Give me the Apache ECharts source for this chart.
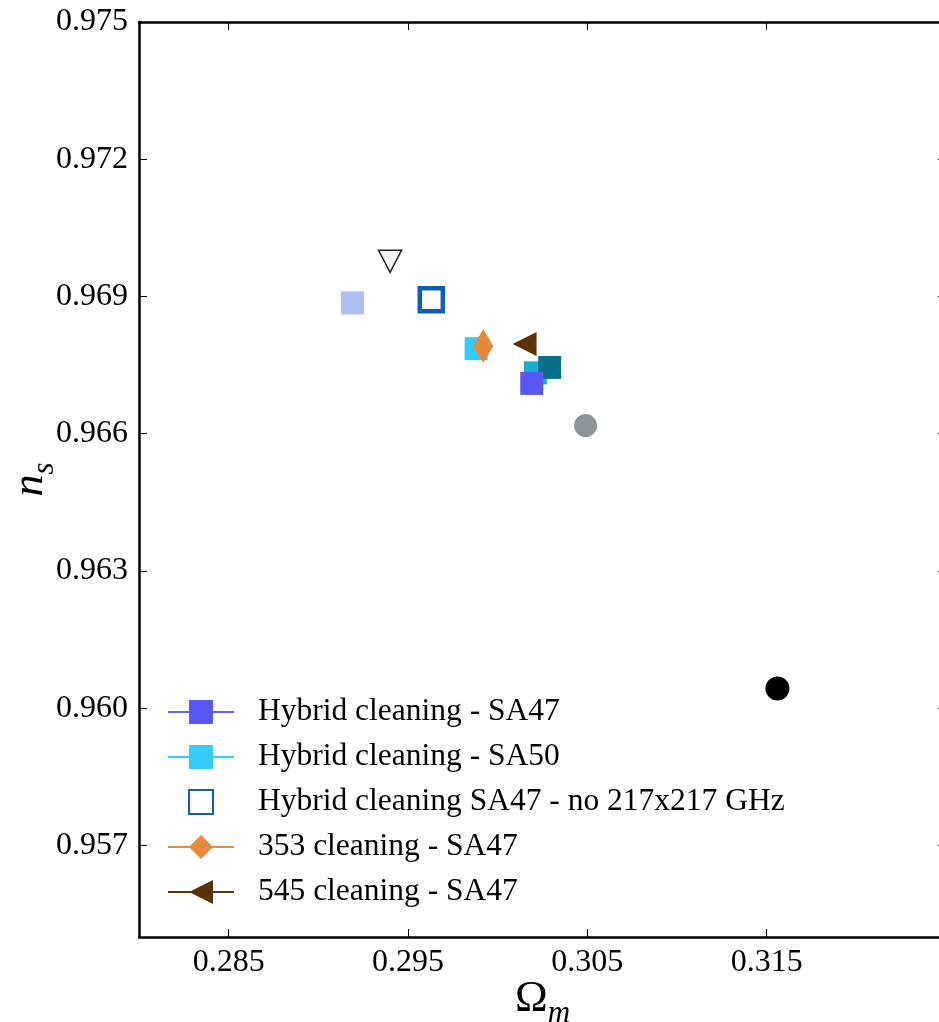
<!DOCTYPE html>
<html>
<head>
<meta charset="utf-8">
<script src="https://cdn.jsdelivr.net/npm/echarts@6/dist/echarts.min.js"></script>
<style>
html,body{margin:0;padding:0;background:#fff;}
#chart{width:939px;height:1022px;}
</style>
</head>
<body>
<div id="chart"></div>
<script>
// ---- data ----
const pointNames = [
  'Light blue square', 'Open triangle', 'Hybrid cleaning SA47 - no 217x217 GHz',
  'Hybrid cleaning - SA50', '353 cleaning - SA47', '545 cleaning - SA47',
  'Teal square', 'Dark teal square', 'Hybrid cleaning - SA47',
  'Grey circle', 'Black circle'
];
const omegaM = [0.2919, 0.2940, 0.2963, 0.2988, 0.2992, 0.3015, 0.3021, 0.3029, 0.3019, 0.3049, 0.3156];
const nS     = [0.96886, 0.96977, 0.96893, 0.96786, 0.96792, 0.96796, 0.96733, 0.96745, 0.96710, 0.96618, 0.96043];
const legendNames = ['Hybrid cleaning - SA47', 'Hybrid cleaning - SA50', 'Hybrid cleaning SA47 - no 217x217 GHz', '353 cleaning - SA47', '545 cleaning - SA47'];
const xTicks = [0.285, 0.295, 0.305, 0.315];
const yTicks = [0.957, 0.960, 0.963, 0.966, 0.969, 0.972, 0.975];

// ---- styles ----
const SQ = 'rect';
const TRI_LEFT = 'path://M0,12L24,0L24,24Z';
const TRI_DOWN = 'path://M0,0L24,0L12,23Z';
const DIAMOND = 'path://M10,0L20,17L10,34L0,17Z';
const styles = [
  {symbol: SQ, size: 23, color: '#adbef5'},
  {symbol: TRI_DOWN, size: [23, 22], color: '#f2f2f2', border: '#222', bw: 1.5},
  {symbol: SQ, size: 23, color: '#ffffff', border: '#0b5fb8', bw: 4.5, legendLine: false},
  {symbol: SQ, size: 23, color: '#33cdf8', line: '#33cdf8'},
  {symbol: DIAMOND, size: [20, 34], color: '#e6893a', line: '#e6893a'},
  {symbol: TRI_LEFT, size: [24, 24], color: '#5a3206', line: '#5a3206'},
  {symbol: SQ, size: 23, color: '#18acd4'},
  {symbol: SQ, size: 23, color: '#08708a'},
  {symbol: SQ, size: 23, color: '#5b57f7', line: '#6663f5'},
  {symbol: 'circle', size: 23, color: '#8b9599'},
  {symbol: 'circle', size: 24, color: '#000000'}
];

const FONT = '"Liberation Serif", "DejaVu Serif", serif';

const series = pointNames.map((name, i) => {
  const st = styles[i];
  const inLegend = legendNames.indexOf(name) >= 0;
  const s = {
    name: name,
    type: inLegend ? 'line' : 'scatter',
    data: [[omegaM[i], nS[i]]],
    symbol: st.symbol,
    symbolSize: st.size,
    showSymbol: true,
    silent: true,
    itemStyle: {
      color: st.color,
      opacity: 1,
      borderColor: st.border || st.color,
      borderWidth: st.bw || 0
    },
    z: 2 + i * 0.01
  };
  if (inLegend) {
    s.lineStyle = {
      color: st.line || st.color,
      width: 2.5,
      opacity: st.legendLine === false ? 0 : 1
    };
  }
  return s;
});

const chart = echarts.init(document.getElementById('chart'), null, {renderer: 'canvas'});

const tickStyle = {inside: true, length: 8, lineStyle: {color: '#000', width: 1}};
const axisLineStyle = {show: true, lineStyle: {color: '#000', width: 2.5}};

chart.setOption({
  animation: false,
  backgroundColor: '#fff',
  grid: {left: 139, top: 22, width: 807, height: 915, outerBoundsMode: 'none', containLabel: false},
  legend: {
    data: legendNames,
    orient: 'vertical',
    left: 167,
    top: 696,
    itemWidth: 66,
    itemHeight: 30,
    itemGap: 13,
    padding: 0,
    selectedMode: false,
    textStyle: {fontFamily: FONT, fontSize: 31.5, color: '#000', padding: [0, 0, 0, 19]}
  },
  xAxis: [{
    type: 'value', min: 0.280, max: 0.325, position: 'bottom',
    axisLine: axisLineStyle,
    axisTick: Object.assign({customValues: xTicks}, tickStyle),
    axisLabel: {customValues: xTicks, formatter: v => v.toFixed(3), fontFamily: FONT, fontSize: 32, color: '#000', margin: 10},
    splitLine: {show: false},
    name: '{a|Ω}{b|m}',
    nameLocation: 'middle',
    nameGap: 40,
    nameMoveOverlap: false,
    nameTextStyle: {
      rich: {
        a: {fontFamily: FONT, fontSize: 44, color: '#000', verticalAlign: 'bottom'},
        b: {fontFamily: FONT, fontSize: 31, fontStyle: 'italic', color: '#000', verticalAlign: 'bottom', padding: [0, 0, -8, 0]}
      }
    }
  }, {
    type: 'value', min: 0.280, max: 0.325, position: 'top',
    axisLine: axisLineStyle,
    axisTick: Object.assign({customValues: xTicks}, tickStyle),
    axisLabel: {show: false},
    splitLine: {show: false}
  }],
  yAxis: [{
    type: 'value', min: 0.955, max: 0.975, position: 'left',
    axisLine: axisLineStyle,
    axisTick: Object.assign({customValues: yTicks}, tickStyle),
    axisLabel: {customValues: yTicks, formatter: v => v.toFixed(3), fontFamily: FONT, fontSize: 32, color: '#000', margin: 11},
    splitLine: {show: false},
    name: '{a|n}{b|s}',
    nameLocation: 'middle',
    nameGap: 87,
    nameMoveOverlap: false,
    nameTextStyle: {
      rich: {
        a: {fontFamily: FONT, fontSize: 44, fontStyle: 'italic', color: '#000', verticalAlign: 'bottom'},
        b: {fontFamily: FONT, fontSize: 31, fontStyle: 'italic', color: '#000', verticalAlign: 'bottom', padding: [0, 0, -8, 0]}
      }
    }
  }, {
    type: 'value', min: 0.955, max: 0.975, position: 'right',
    axisLine: axisLineStyle,
    axisTick: Object.assign({customValues: yTicks}, tickStyle),
    axisLabel: {show: false},
    splitLine: {show: false}
  }],
  series: series
});
</script>
</body>
</html>
